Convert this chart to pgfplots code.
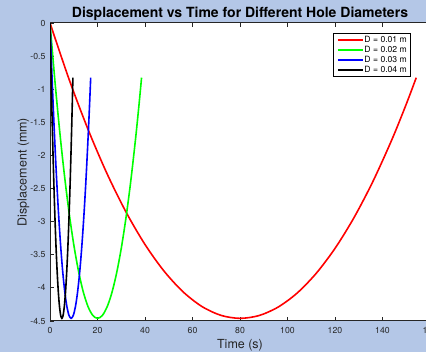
\documentclass[border=0pt]{standalone}
\usepackage{pgfplots}
\pgfplotsset{compat=1.18}
\usepackage{pgfplotstable}
\usepackage{fontspec}
\setmainfont{TeX Gyre Heros}
\definecolor{figbg}{RGB}{180,199,231}
\definecolor{axgray}{RGB}{38,38,38}
\pgfplotstableread{
tr tg tb tk y
0 0 0 0 0
8 2 0.889 0.5 -0.847
16 4 1.778 1 -1.605
24 6 2.667 1.5 -2.274
32 8 3.556 2 -2.854
40 10 4.444 2.5 -3.345
48 12 5.333 3 -3.746
56 14 6.222 3.5 -4.059
64 16 7.111 4 -4.282
72 18 8 4.5 -4.415
80 20 8.889 5 -4.46
88 22 9.778 5.5 -4.418
96 24 10.667 6 -4.291
104 26 11.556 6.5 -4.080
112 28 12.444 7 -3.784
120 30 13.333 7.5 -3.404
128 32 14.222 8 -2.939
136 34 15.111 8.5 -2.390
144 36 16 9 -1.757
150 37.5 16.667 9.375 -1.226
154.2 38.55 17.133 9.6375 -0.826
}\curves
\begin{document}
\begin{tikzpicture}
\path[use as bounding box] (0,0) rectangle (426pt,352pt);
\fill[figbg] (0,0) rectangle (426pt,352pt);
\clip (0,0) rectangle (426pt,352pt);
\begin{axis}[
  at={(50pt,31pt)}, anchor=south west,
  scale only axis, width=380pt, height=298pt,
  axis background/.style={fill=white},
  xmin=0, xmax=160, ymin=-4.5, ymax=0,
  xtick={0,20,40,60,80,100,120,140,160},
  xticklabels={0,20,40,60,80,100,120,140,160},
  ytick={-4.5,-4,-3.5,-3,-2.5,-2,-1.5,-1,-0.5,0},
  yticklabels={-4.5,-4,-3.5,-3,-2.5,-2,-1.5,-1,-0.5,0},
  tick align=inside,
  major tick length=4pt,
  axis line style={axgray, line width=1pt},
  every tick/.style={axgray, line width=0.8pt},
  tick label style={font=\fontsize{8.7}{10}\selectfont, text=axgray},
  xticklabel style={yshift=-3pt},
  yticklabel style={xshift=-1pt},
  /pgf/number format/assume math mode=true,
  xlabel={Time (s)},
  ylabel={Displacement (mm)},
  label style={font=\fontsize{12.5}{14}\selectfont, text=axgray},
  xlabel style={at={(rel axis cs:0.5,-0.0805)}, anchor=center},
  ylabel style={at={(rel axis cs:-0.07,0.5)}, anchor=center},
  every axis title shift=0pt,
  title={Displacement vs Time for Different Hole Diameters},
  title style={font=\fontsize{14}{16}\selectfont\bfseries, at={(rel axis cs:0.5,1)}, anchor=base, yshift=5pt},
  legend style={at={(rel axis cs:1,1)}, anchor=north east, xshift=-19pt, yshift=-10pt,
    font=\fontsize{8.6}{9.4}\selectfont, draw=black, line width=0.8pt, fill=white,
    inner xsep=3pt, inner ysep=2pt, row sep=1.5pt,
    nodes={inner sep=0.8pt, text height=6pt, text depth=1pt, text=black}},
  legend cell align=left,
  legend image code/.code={\draw[#1, line width=1.8pt] (0pt,0pt) -- (25pt,0pt);},
]
\addplot[red, line width=1.6pt, smooth] table[x=tr, y=y]{\curves};
\addlegendentry{D = 0.01 m\hspace{5pt}}
\addplot[green, line width=1.6pt, smooth] table[x=tg, y=y]{\curves};
\addlegendentry{D = 0.02 m\hspace{5pt}}
\addplot[blue, line width=1.6pt, smooth] table[x=tb, y=y]{\curves};
\addlegendentry{D = 0.03 m\hspace{5pt}}
\addplot[black, line width=1.6pt, smooth] table[x=tk, y=y]{\curves};
\addlegendentry{D = 0.04 m\hspace{5pt}}
\end{axis}
\end{tikzpicture}
\end{document}
